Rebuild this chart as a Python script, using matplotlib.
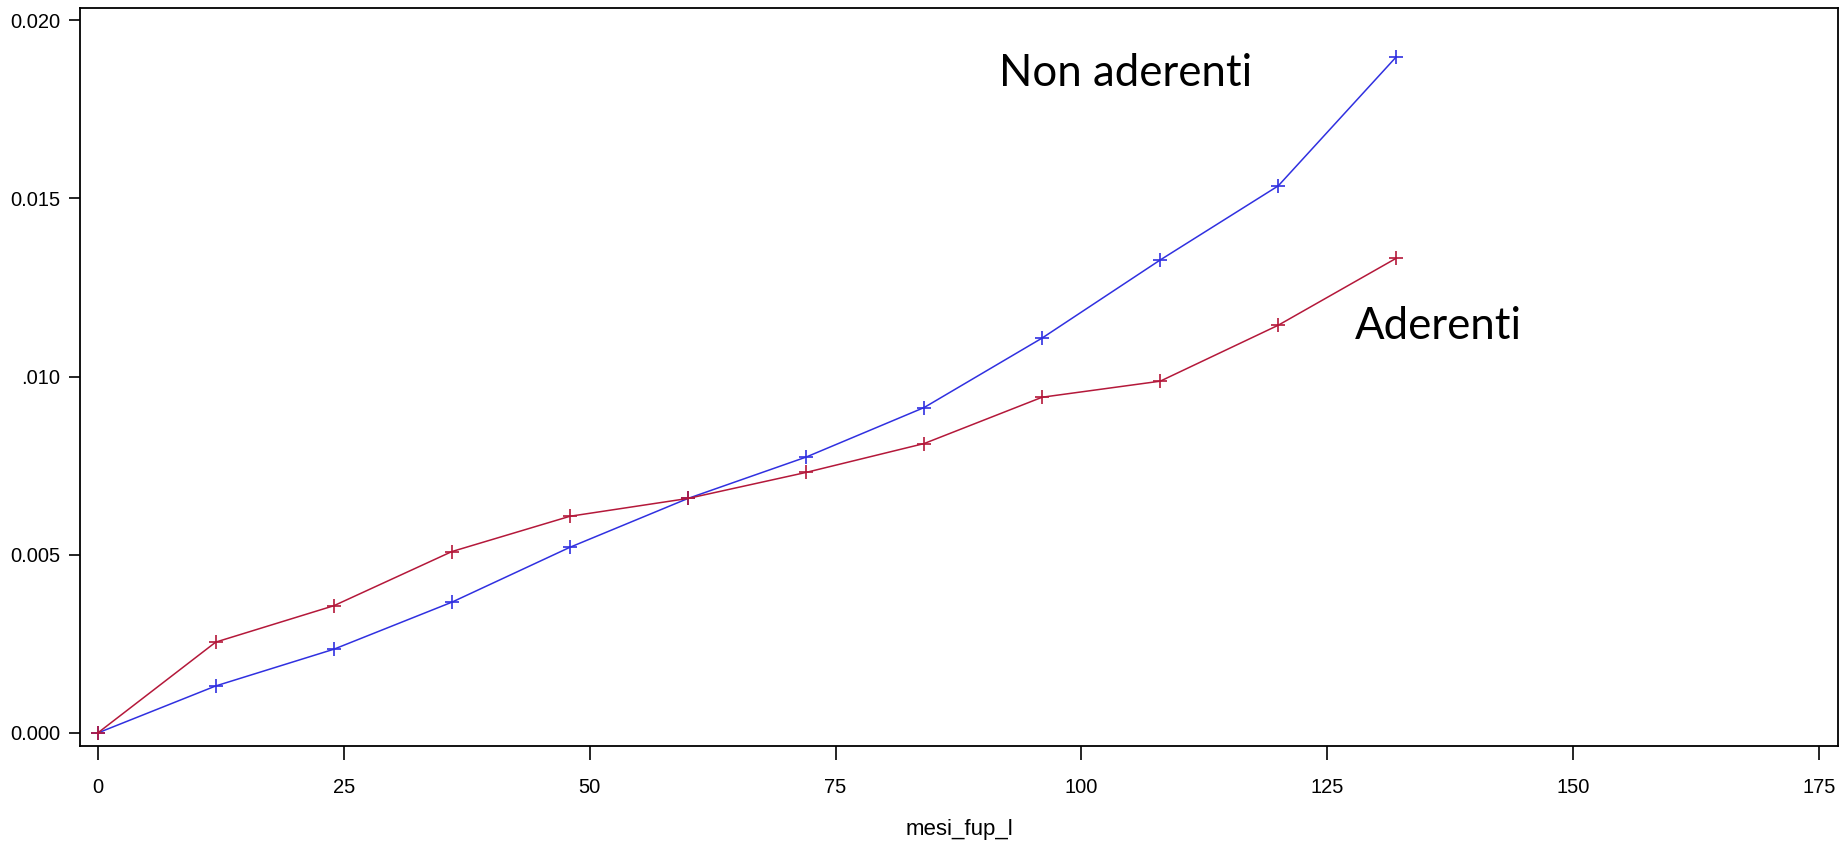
import matplotlib
matplotlib.use("Agg")
import matplotlib.pyplot as plt

months = [0, 12, 24, 36, 48, 60, 72, 84, 96, 108, 120, 132]
non_aderenti = [0.0, 0.00132, 0.00235, 0.00367, 0.00521, 0.00658, 0.00774,
                0.00913, 0.01108, 0.01327, 0.01535, 0.01897]
aderenti = [0.0, 0.00255, 0.00357, 0.00509, 0.00608, 0.00658, 0.00731,
            0.00812, 0.00942, 0.00987, 0.01144, 0.01332]
xticks = [0, 25, 50, 75, 100, 125, 150, 175]
yticks = [0.000, 0.005, 0.010, 0.015, 0.020]
ytick_labels = ["0.000", "0.005", ".010", "0.015", "0.020"]

plt.rcParams['font.family'] = ['Liberation Sans', 'DejaVu Sans']

fig = plt.figure(figsize=(18.47, 8.43), dpi=100)
ax = fig.add_axes([80/1847, 1 - 746/843, (1838-80)/1847, (746-8)/843])

blue = '#3030e0'
red = '#b4183a'
ax.plot(months, non_aderenti, color=blue, lw=1.1, marker='+', ms=10, mew=1.2)
ax.plot(months, aderenti, color=red, lw=1.1, marker='+', ms=10, mew=1.2)

ax.set_xlim(-1.8, 176.9)
ax.set_ylim(-0.000365, 0.02034)
ax.set_xticks(xticks)
ax.set_xticklabels([str(t) for t in xticks])
ax.set_yticks(yticks)
ax.set_yticklabels(ytick_labels)
ax.tick_params(axis='x', length=10, width=1.2, pad=13, labelsize=14.5)
ax.tick_params(axis='y', length=8, width=1.2, pad=6, labelsize=14.5)
for s in ax.spines.values():
    s.set_linewidth(1.3)

ax.set_xlabel("mesi_fup_l", fontsize=16, labelpad=16)

ax.text(91.6, 0.01815, "Non aderenti", fontsize=31.5, family=['Lato', 'DejaVu Sans'],
        ha='left', va='baseline')
ax.text(127.8, 0.01104, "Aderenti", fontsize=31.5, family=['Lato', 'DejaVu Sans'],
        ha='left', va='baseline')

fig.savefig("out.png", dpi=100)
